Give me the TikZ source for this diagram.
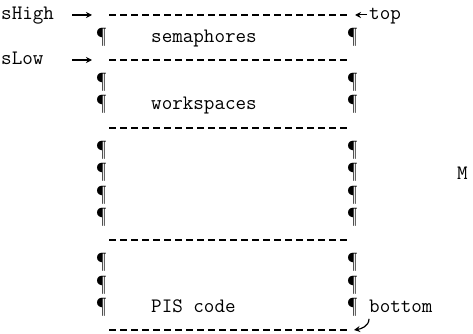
\documentclass[tikz,border=0pt]{standalone}
\usetikzlibrary{arrows.meta}
\begin{document}
\begin{tikzpicture}[x=1pt, y=-1pt,
    mono/.style={font=\ttfamily\fontsize{20.5}{22}\selectfont, inner sep=0pt, anchor=base west},
    rule/.style={line width=1.5pt, dash pattern=on 7pt off 4pt},
    ptr/.style={-{Stealth[length=6pt,width=6pt]}, line width=1.4pt}]
    \useasboundingbox (0,0) rectangle (473,334);

    % === separator lines (rows 0, 2, 5, 10, 14) ===
    \foreach \r/\y in {0/15, 2/60, 5/128, 10/240, 14/330} {
        \coordinate (dw\r) at (109, \y);
        \coordinate (de\r) at (347, \y);
        \draw[rule] (dw\r) -- (de\r);
    }

    % === pilcrow margins ===
    \foreach \r in {1,3,4,6,7,8,9,11,12,13} {
        \node[mono] (pl\r) at (96, 20+22.5*\r) {¶};
        \node[mono] (pr\r) at (347, 20+22.5*\r) {¶};
    }

    % segment names
    \node[mono] (sem)  at (151, 42.5)  {semaphores};
    \node[mono] (work) at (151, 110)   {workspaces};
    \node[mono] (pis)  at (151, 312.5) {PIS code};
    \node[mono] (mark) at (457, 179)   {M};

    % pointer names
    \node[mono] (sHigh)  at (1, 20)     {sHigh};
    \node[mono] (sLow)   at (1, 65)     {sLow};
    \node[mono] (top)    at (369, 20)   {top};
    \node[mono] (bottom) at (369, 312.5) {bottom};

    % === pointer arrows ===
    \draw[ptr] ([xshift=-37pt]dw0) -- ([xshift=-17pt]dw0);
    \draw[ptr] ([xshift=-37pt]dw2) -- ([xshift=-17pt]dw2);
    \draw[ptr, line width=1pt] ([xshift=-2pt]top.west |- de0) -- ([xshift=8pt]de0);
    \draw[ptr, line width=1.2pt] ([yshift=-6pt]bottom.south west)
        .. controls +(0,8) and +(6,-1) .. ([xshift=7pt]de14);
\end{tikzpicture}
\end{document}
